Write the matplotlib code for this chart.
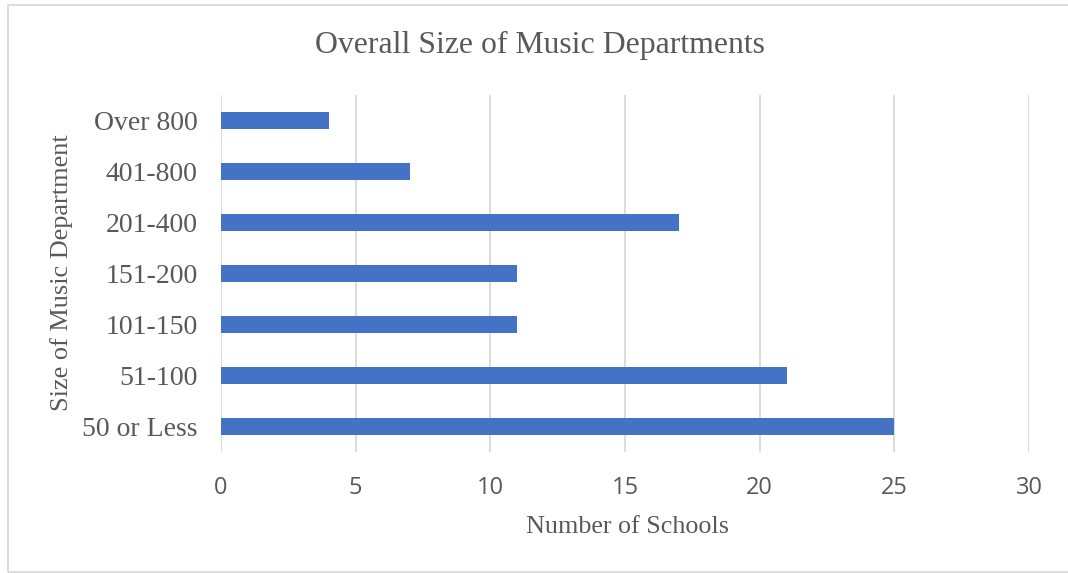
import matplotlib
matplotlib.use('Agg')
import matplotlib.pyplot as plt
from matplotlib.patches import Rectangle

# data
categories = ['50 or Less', '51-100', '101-150', '151-200', '201-400', '401-800', 'Over 800']
schools = [25, 21, 11, 11, 17, 7, 4]
x_ticks = [0, 5, 10, 15, 20, 25, 30]

BAR = '#4472C4'
TXT = '#595959'
GRID = '#D9D9D9'
SERIF = 'Liberation Serif'

fig = plt.figure(figsize=(10.68, 5.73), dpi=100)
ax = fig.add_axes([221 / 1068, 1 - 452 / 573, 808 / 1068, 357 / 573])

ax.barh(range(len(categories)), schools, height=0.35, color=BAR, zorder=3)

ax.set_xlim(0, 30)
ax.set_ylim(-0.5, len(categories) - 0.5)
ax.set_xticks(x_ticks)
ax.set_yticks(range(len(categories)))
ax.set_yticklabels(categories, family=SERIF, fontsize=20, color=TXT)
for lbl in ax.get_xticklabels():
    lbl.set_family('Open Sans')
    lbl.set_fontsize(17)
    lbl.set_color(TXT)

ax.grid(axis='x', color=GRID, linewidth=1.3, zorder=0)
ax.tick_params(length=0)
ax.tick_params(axis='x', pad=17)
ax.tick_params(axis='y', pad=17)
for s in ax.spines.values():
    s.set_visible(False)

fig.text(540 / 1068, 1 - 45 / 573, 'Overall Size of Music Departments',
         ha='center', va='center', family=SERIF, fontsize=22.9, color=TXT)
fig.text(628 / 1068, 1 - 527 / 573, 'Number of Schools',
         ha='center', va='center', family=SERIF, fontsize=18.8, color=TXT)
fig.text(62 / 1068, 1 - 273 / 573, 'Size of Music Department', rotation=90,
         ha='center', va='center', family=SERIF, fontsize=18.9, color=TXT)

# chart frame
fig.patches.append(Rectangle((8 / 1068, 1 / 573), 1.1, 567 / 573, transform=fig.transFigure,
                             fill=False, edgecolor=GRID, linewidth=1.3))

fig.savefig('out.png', dpi=100)
